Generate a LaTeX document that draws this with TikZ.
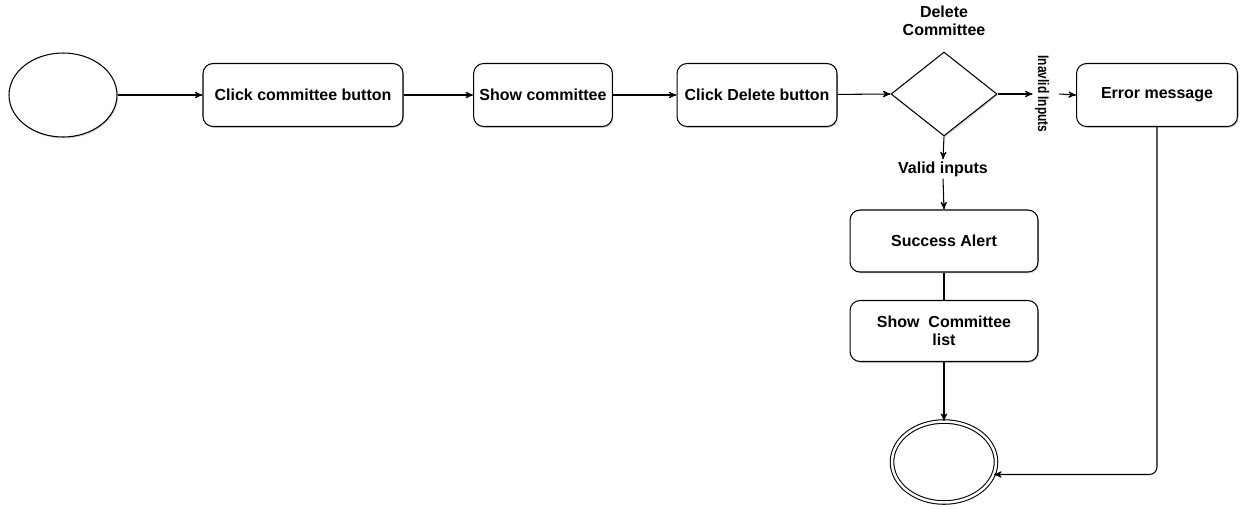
\documentclass[tikz,border=0pt]{standalone}
\usepackage{fontspec}
\setmainfont{Liberation Sans}
\usetikzlibrary{arrows,shapes,shadows}

\tikzset{
  stepbox/.style={rectangle,rounded corners=0.2cm,draw,fill=white,
                  minimum height=1.26cm,align=center,
                  drop shadow={shadow xshift=0.6pt,shadow yshift=-0.8pt,opacity=0.35}},
  terminal/.style={ellipse,draw,fill=white,minimum width=2.16cm,minimum height=1.68cm,
                  drop shadow={shadow xshift=0.6pt,shadow yshift=-0.8pt,opacity=0.35}},
  lbl/.style={align=center,inner sep=1pt}
}

\begin{document}
\begin{tikzpicture}[->,>=stealth',semithick,x=0.02cm,y=-0.02cm,
                    every node/.style={font=\fontsize{9.1}{10.5}\selectfont\bfseries}]
  \useasboundingbox (0,0) rectangle (1246,508);

  \node[terminal]                        (start)  at (63,95)    {};
  \node[stepbox,minimum width=4cm]       (click)  at (303,95)   {Click committee button};
  \node[stepbox,minimum width=2.64cm]    (show)   at (543,95)   {Show committee};
  \node[stepbox,minimum width=3.2cm]     (delbtn) at (757,95)   {Click Delete button};
  \node[diamond,draw,fill=white,inner sep=0pt,minimum width=2.12cm,minimum height=1.68cm,
        drop shadow={shadow xshift=0.6pt,shadow yshift=-0.8pt,opacity=0.35}]
                                          (dia)    at (944,94)   {};
  \node[lbl]                              (diatxt) at (944,21)   {Delete\\Committee};
  \node[lbl,rotate=-90,font=\fontsize{8.7}{10}\selectfont\bfseries]
                                          (inv)    at (1042,94)  {\scalebox{0.78}[1]{Inavlid Inputs}};
  \node[stepbox,minimum width=3.22cm]    (err)    at (1157,95)  {Error message};
  \node[lbl]                              (val)    at (943,169)  {Valid inputs};
  \node[stepbox,minimum width=3.76cm,minimum height=1.24cm]
                                          (succ)   at (944,241)  {Success Alert};
  \node[stepbox,minimum width=3.76cm,minimum height=1.22cm]
                                          (list)   at (944,331)  {Show~ Committee\\list};
  \node[terminal,double,double distance=1.4pt,minimum width=2.08cm,minimum height=1.62cm]
                                          (end)    at (944,462)  {};

  \path (start)  edge (click)
        (click)  edge (show)
        (show)   edge (delbtn)
        (delbtn) edge (dia.west);
  \draw (dia.east) -- (dia.east -| inv.south);
  \draw (dia.east -| inv.north) ++(8,0) -- (err.west);
  \draw (dia.south) -- (val.north);
  \draw (val.south) -- (succ.north);
  \draw[-] (succ) -- (list);
  \draw (list) -- (end);
  \draw[rounded corners=0.15cm] (err.south) |- (end.-14);
\end{tikzpicture}
\end{document}
